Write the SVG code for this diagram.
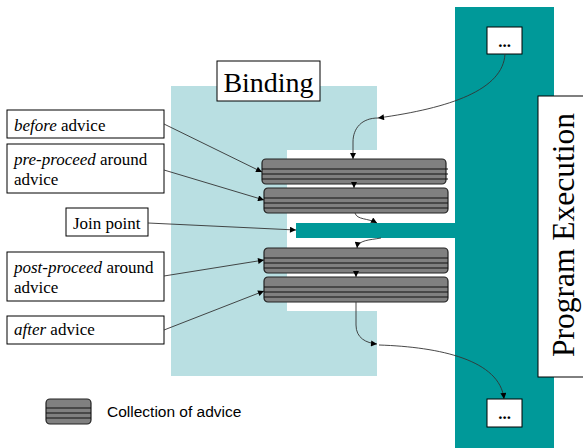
<svg xmlns="http://www.w3.org/2000/svg" width="583" height="448" viewBox="0 0 583 448">
  <style>
    .lbl { fill: #fff; stroke: #000; stroke-width: 1; }
    .serif { font-family: "Liberation Serif", "Times New Roman", serif; fill: #000; }
    .t17 { font-size: 17px; }
    .dots { font-size: 17px; font-weight: bold; }
    .adv { fill: #808080; stroke: #222; stroke-width: 1.2; }
    .advline { stroke: #111; stroke-width: 1; }
    .conn { fill: none; stroke: #333; stroke-width: 0.9; }
  </style>
  <defs>
    <marker id="ah" viewBox="0 0 10 10" refX="10" refY="5" markerWidth="7" markerHeight="6" markerUnits="userSpaceOnUse" orient="auto">
      <path d="M0,0 L10,5 L0,10 Z" fill="#000"/>
    </marker>
    <g id="advice">
      <rect class="adv" x="0" y="0" width="184" height="25" rx="4"/>
      <line class="advline" x1="0" y1="10" x2="184" y2="10"/>
      <line class="advline" x1="0" y1="15" x2="184" y2="15"/>
      <line class="advline" x1="0" y1="20" x2="184" y2="20"/>
    </g>
  </defs>

  <!-- binding area with the cut-out around the advice stack -->
  <g id="binding">
    <path d="M171,86 H377 V150 H287 V311 H377 V376 H171 Z" fill="#b9dfe2"/>
    <rect class="lbl" x="217" y="61" width="103" height="40"/>
    <text class="serif" x="268.5" y="92" font-size="28" text-anchor="middle">Binding</text>
  </g>

  <!-- program execution column -->
  <g id="execution">
    <rect x="455" y="7" width="99" height="445" fill="#009999"/>
    <rect class="lbl" x="538" y="96" width="50" height="281"/>
    <text class="serif" transform="translate(574,235) rotate(-90)" font-size="31.5" text-anchor="middle">Program Execution</text>
  </g>

  <g id="exec-top">
    <rect class="lbl" x="487" y="27" width="35" height="27"/>
    <text class="serif dots" x="504.5" y="47" text-anchor="middle">...</text>
  </g>
  <g id="exec-bottom">
    <rect class="lbl" x="487" y="399" width="35" height="28"/>
    <text class="serif dots" x="504.5" y="419" text-anchor="middle">...</text>
  </g>

  <!-- join point bar -->
  <g id="joinbar">
    <rect x="296" y="223" width="160" height="15" fill="#009999"/>
  </g>

  <!-- advice collections -->
  <g id="adv-before">
    <rect class="adv" x="262" y="159" width="184" height="25" rx="4"/>
    <line class="advline" x1="262" y1="169" x2="448" y2="169"/>
    <line class="advline" x1="262" y1="174" x2="448" y2="174"/>
    <line class="advline" x1="262" y1="179" x2="448" y2="179"/>
  </g>
  <g id="adv-pre"><use href="#advice" x="264" y="188"/></g>
  <g id="adv-post"><use href="#advice" x="264" y="248"/></g>
  <g id="adv-after"><use href="#advice" x="264" y="277"/></g>

  <!-- labels -->
  <g id="lbl-before">
    <rect class="lbl" x="7" y="110" width="157" height="28"/>
    <text class="serif t17" x="14" y="131"><tspan font-style="italic">before</tspan> advice</text>
  </g>
  <g id="lbl-pre">
    <rect class="lbl" x="7" y="144" width="157" height="49"/>
    <text class="serif t17" x="14" y="165"><tspan font-style="italic">pre-proceed</tspan> around</text>
    <text class="serif t17" x="14" y="185">advice</text>
  </g>
  <g id="lbl-join">
    <rect class="lbl" x="66" y="208" width="82" height="28"/>
    <text class="serif t17" x="73" y="229">Join point</text>
  </g>
  <g id="lbl-post">
    <rect class="lbl" x="7" y="252" width="157" height="49"/>
    <text class="serif t17" x="14" y="273"><tspan font-style="italic">post-proceed</tspan> around</text>
    <text class="serif t17" x="14" y="293">advice</text>
  </g>
  <g id="lbl-after">
    <rect class="lbl" x="7" y="316" width="157" height="28"/>
    <text class="serif t17" x="14" y="335"><tspan font-style="italic">after</tspan> advice</text>
  </g>

  <!-- legend -->
  <g id="legend">
    <rect class="adv" x="46" y="399" width="45" height="25" rx="4"/>
    <line class="advline" x1="46" y1="408" x2="91" y2="408"/>
    <line class="advline" x1="46" y1="413" x2="91" y2="413"/>
    <line class="advline" x1="46" y1="418" x2="91" y2="418"/>
    <text x="107" y="417" font-family="'Liberation Sans', Arial, sans-serif" font-size="15.5" fill="#000">Collection of advice</text>
  </g>

  <!-- connectors -->
  <g id="connectors">
    <path class="conn" d="M164,124 L262,172" marker-end="url(#ah)"/>
    <path class="conn" d="M164,170 L264,200" marker-end="url(#ah)"/>
    <path class="conn" d="M148,223 L296,230" marker-end="url(#ah)"/>
    <path class="conn" d="M164,276 L264,260" marker-end="url(#ah)"/>
    <path class="conn" d="M164,330 L264,291" marker-end="url(#ah)"/>

    <path class="conn" d="M505,54 C503,90 450,108 378,118" marker-end="url(#ah)"/>
    <path class="conn" d="M378,118 C362,118 353,128 353,142 L353,159" marker-end="url(#ah)"/>
    <path class="conn" d="M354,182 L354,188" marker-end="url(#ah)"/>
    <path class="conn" d="M355,213 C357,220 368,218 377,223" marker-end="url(#ah)"/>
    <path class="conn" d="M381,238 C370,240 358,240 357,248" marker-end="url(#ah)"/>
    <path class="conn" d="M356,271 L356,277" marker-end="url(#ah)"/>
    <path class="conn" d="M356,302 L356,325 C356,338 366,343 377,344" marker-end="url(#ah)"/>
    <path class="conn" d="M379,345 C440,347 500,360 504,399" marker-end="url(#ah)"/>
  </g>
</svg>
